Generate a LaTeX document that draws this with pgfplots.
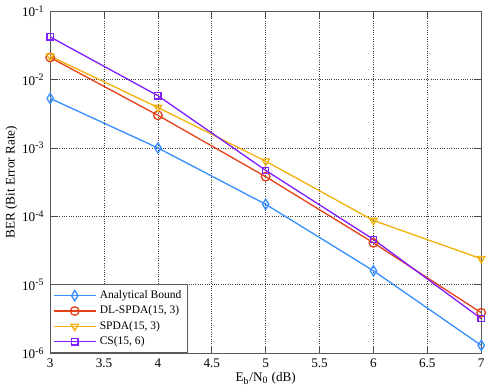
\documentclass[border=0pt]{standalone}
\usepackage{fontspec}
\setmainfont{Liberation Serif}
\usepackage{pgfplots}
\pgfplotsset{compat=1.18}

\definecolor{cA}{rgb}{0.22,0.56,1.0}
\definecolor{cB}{rgb}{0.90,0.26,0.10}
\definecolor{cC}{rgb}{0.95,0.70,0.05}
\definecolor{cD}{rgb}{0.50,0.12,1.0}

\begin{document}
\begin{tikzpicture}
\begin{axis}[
    scale only axis,
    width=9.2cm, height=7.3cm,
    ymode=log, log basis y=10,
    xmin=3, xmax=7, ymin=1e-6, ymax=1e-1,
    xtick={3,3.5,...,7},
    ytick={1e-6,1e-5,1e-4,1e-3,1e-2,1e-1},
    yticklabels={10\textsuperscript{-6},10\textsuperscript{-5},10\textsuperscript{-4},10\textsuperscript{-3},10\textsuperscript{-2},10\textsuperscript{-1}},
    /pgf/number format/assume math mode=true,
    ticklabel style={font=\footnotesize},
    tick align=inside,
    tick style={gray!60!black, thin},
    axis line style={gray!70!black, thin},
    grid=both,
    major grid style={densely dotted, black!75, thin},
    minor grid style={densely dotted, black!65, thin},
    xlabel={E\textsubscript{b}/N\textsubscript{0} (dB)},
    ylabel={BER (Bit Error Rate)},
    label style={font=\footnotesize},
    xlabel style={yshift=4pt},
    ylabel style={yshift=-4pt},
    legend style={at={(0,0)}, anchor=south west, font=\scriptsize, draw=gray!70!black, inner sep=1.5pt, row sep=-1pt},
    legend cell align=left,
    legend image code/.code={\draw[line width=0.8pt, mark repeat=2, mark phase=2] plot coordinates {(0cm,0cm) (0.45cm,0cm) (0.9cm,0cm)};},
    every axis plot/.append style={line width=0.8pt, mark size=2.6pt, mark options={solid, line width=0.8pt, fill=none}},
]
\addplot[cA, mark=diamond, mark options={yscale=1.2}] coordinates {(3,5.3e-3) (4,1.0e-3) (5,1.5e-4) (6,1.6e-5) (7,1.3e-6)};
\addlegendentry{Analytical Bound}
\addplot[cB, mark=o] coordinates {(3,2.1e-2) (4,3.0e-3) (5,3.8e-4) (6,4.1e-5) (7,3.9e-6)};
\addlegendentry{DL-SPDA(15, 3)}
\addplot[cC, mark=triangle, mark options={rotate=180}] coordinates {(3,2.2e-2) (4,3.9e-3) (5,6.4e-4) (6,8.7e-5) (7,2.4e-5)};
\addlegendentry{SPDA(15, 3)}
\addplot[cD, mark=square, mark size=1.9pt] coordinates {(3,4.2e-2) (4,5.8e-3) (5,4.7e-4) (6,4.6e-5) (7,3.2e-6)};
\addlegendentry{CS(15, 6)}
\end{axis}
\end{tikzpicture}
\end{document}
